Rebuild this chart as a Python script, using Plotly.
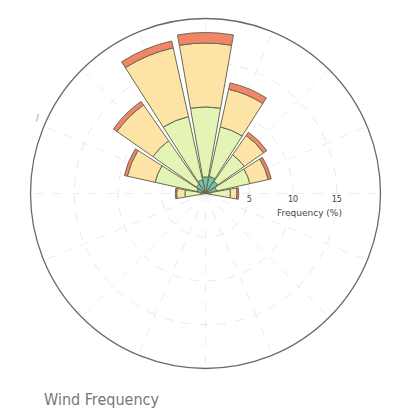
import plotly.graph_objects as go

# Compass bearings of the 16 sectors (N = 0, clockwise)
bearings = [0, 22.5, 45, 67.5, 90, 112.5, 135, 157.5,
            180, 202.5, 225, 247.5, 270, 292.5, 315, 337.5]

# Frequency (%) of each speed band per sector, innermost band first
band_calm = [0.35, 0.35, 0.35, 0.35, 0.30, 0, 0, 0, 0, 0, 0, 0, 0.30, 0.35, 0.35, 0.35]
band_light = [1.55, 1.65, 1.35, 0.95, 0.30, 0, 0, 0, 0, 0, 0, 0, 0.30, 0.65, 0.95, 1.25]
band_moderate = [8.0, 5.8, 3.7, 3.9, 2.25, 0, 0, 0, 0, 0, 0, 0, 1.75, 4.9, 6.05, 7.4]
band_fresh = [7.3, 4.4, 2.7, 2.15, 0.75, 0, 0, 0, 0, 0, 0, 0, 0.95, 3.25, 5.0, 8.05]
band_strong = [1.2, 0.75, 0.45, 0.35, 0.20, 0, 0, 0, 0, 0, 0, 0, 0.15, 0.35, 0.5, 0.8]

bands = [
    ("0-1 m/s", band_calm, "#262626"),
    ("1-3 m/s", band_light, "#74c7b0"),
    ("3-6 m/s", band_moderate, "#e4f4b4"),
    ("6-9 m/s", band_fresh, "#fde4a6"),
    (">9 m/s", band_strong, "#f28467"),
]

radial_ticks = [5, 10, 15]

fig = go.Figure()
for name, values, color in bands:
    fig.add_trace(go.Barpolar(
        r=values,
        theta=bearings,
        width=20,
        name=name,
        marker=dict(color=color, line=dict(color="#6b6a52", width=1)),
        showlegend=False,
    ))

fig.update_layout(
    width=402,
    height=409,
    margin=dict(l=0, r=0, t=0, b=0),
    paper_bgcolor="white",
    plot_bgcolor="white",
    polar=dict(
        domain=dict(x=[0.0759, 0.9465], y=[0.099, 0.9548]),
        bgcolor="white",
        barmode="stack",
        angularaxis=dict(
            direction="clockwise",
            rotation=90,
            dtick=22.5,
            showticklabels=False,
            ticks="",
            showline=True,
            linecolor="#6a6a6a",
            linewidth=1.3,
            gridcolor="#ececec",
            griddash="dash",
            gridwidth=1,
            layer="above traces",
        ),
        radialaxis=dict(
            range=[0, 20],
            angle=0,
            tickangle=0,
            tickvals=radial_ticks,
            ticktext=[str(t) for t in radial_ticks],
            showline=False,
            ticks="",
            side="clockwise",
            tickfont=dict(family="DejaVu Sans", size=8, color="#444444"),
            gridcolor="#e9e9e9",
            griddash="dash",
            gridwidth=1,
            layer="above traces",
        ),
    ),
    annotations=[
        dict(text="Frequency (%)", x=0.771, y=0.479, xref="paper", yref="paper",
             showarrow=False, xanchor="center", yanchor="middle",
             font=dict(family="DejaVu Sans", size=9, color="#444444")),
        dict(text="/", x=37 / 402, y=1 - 118 / 409, xref="paper", yref="paper",
             showarrow=False, xanchor="center", yanchor="middle",
             font=dict(family="DejaVu Sans", size=8, color="#888888")),
        dict(text="Wind Frequency", x=42 / 402, y=0.0244, xref="paper", yref="paper",
             showarrow=False, xanchor="left", yanchor="middle",
             font=dict(family="DejaVu Sans Condensed, Liberation Sans Narrow, Roboto",
                       size=16, color="#777777")),
    ],
)

fig.write_html("out.html")
